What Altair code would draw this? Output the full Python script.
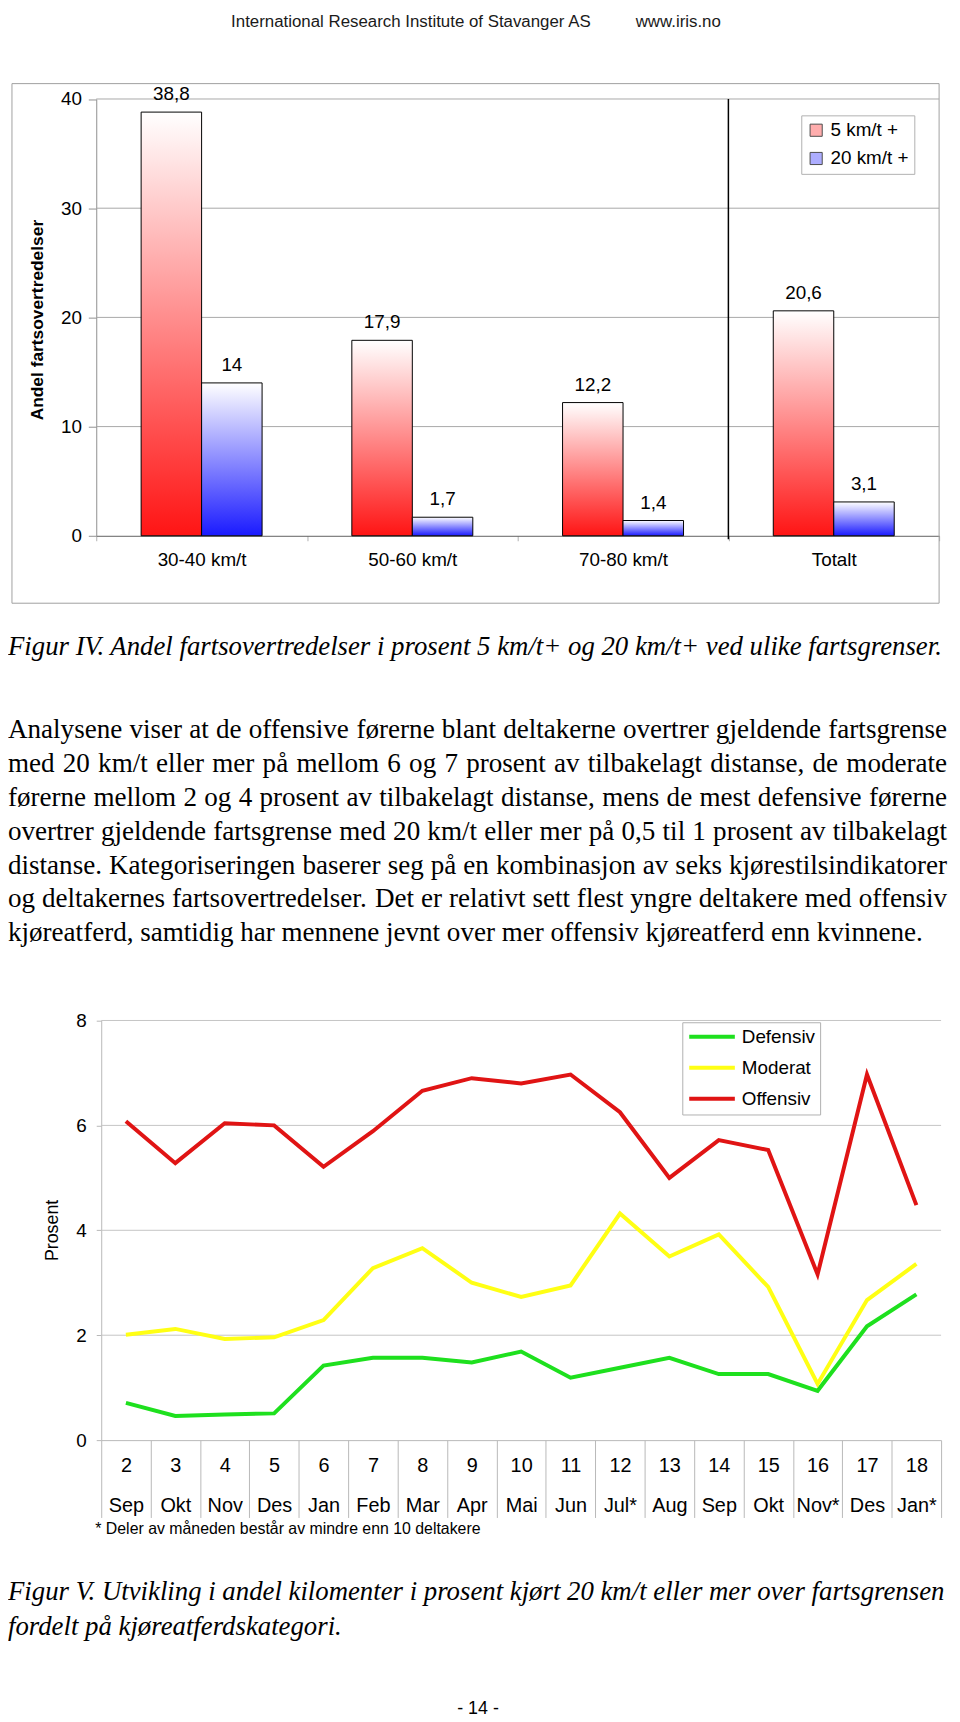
import altair as alt
import pandas as pd

# ---------------- data: Figur IV ----------------
speed_limits = ["30-40 km/t", "50-60 km/t", "70-80 km/t", "Totalt"]
over5 = [38.8, 17.9, 12.2, 20.6]
over20 = [14, 1.7, 1.4, 3.1]
bar_series = ["5 km/t +", "20 km/t +"]
bar_ticks = [0, 10, 20, 30, 40]

# ---------------- data: Figur V ----------------
week_numbers = ["2", "3", "4", "5", "6", "7", "8", "9", "10", "11", "12", "13", "14", "15", "16", "17", "18"]
months = ["Sep", "Okt", "Nov", "Des", "Jan", "Feb", "Mar", "Apr", "Mai", "Jun", "Jul*", "Aug", "Sep", "Okt", "Nov*", "Des", "Jan*"]
defensiv = [0.71, 0.46, 0.49, 0.51, 1.42, 1.57, 1.57, 1.48, 1.69, 1.19, 1.38, 1.57, 1.26, 1.26, 0.94, 2.17, 2.78]
moderat = [2.01, 2.12, 1.93, 1.96, 2.29, 3.28, 3.66, 3.00, 2.73, 2.95, 4.32, 3.50, 3.92, 2.92, 1.07, 2.67, 3.36]
offensiv = [6.08, 5.28, 6.04, 6.00, 5.21, 5.89, 6.66, 6.90, 6.80, 6.97, 6.25, 5.00, 5.72, 5.53, 3.16, 6.97, 4.48]
line_series = ["Defensiv", "Moderat", "Offensiv"]
line_ticks = [0, 2, 4, 6, 8]

# ---------------- page text ----------------
header_left = "International Research Institute of Stavanger AS"
header_right = "www.iris.no"
caption4 = "Figur IV. Andel fartsovertredelser i prosent 5 km/t+ og 20 km/t+ ved ulike fartsgrenser."
paragraph_lines = [
    "Analysene viser at de offensive førerne blant deltakerne overtrer gjeldende fartsgrense",
    "med 20 km/t eller mer på mellom 6 og 7 prosent av tilbakelagt distanse, de moderate",
    "førerne mellom 2 og 4 prosent av tilbakelagt distanse, mens de mest defensive førerne",
    "overtrer gjeldende fartsgrense med 20 km/t eller mer på 0,5 til 1 prosent av tilbakelagt",
    "distanse. Kategoriseringen baserer seg på en kombinasjon av seks kjørestilsindikatorer",
    "og deltakernes fartsovertredelser. Det er relativt sett flest yngre deltakere med offensiv",
    "kjøreatferd, samtidig har mennene jevnt over mer offensiv kjøreatferd enn kvinnene.",
]
footnote = "* Deler av måneden består av mindre enn 10 deltakere"
caption5_lines = [
    "Figur V. Utvikling i andel kilomenter i prosent kjørt 20 km/t eller mer over fartsgrensen",
    "fordelt på kjøreatferdskategori.",
]
page_number = "- 14 -"

W, H = 952, 1714
SANS = "Liberation Sans, Arial, Helvetica, sans-serif"
SERIF = "Liberation Serif, Times New Roman, serif"
PARA_SIZE = 27.3
PARA_RIGHT = 947

# Times (Liberation Serif) advance widths, 1/1000 em, used to justify the paragraph
_TW = {" ": 250, ",": 250, ".": 250, "-": 333, "/": 278, "+": 564, "*": 500}
_TW.update({d: 500 for d in "0123456789"})
_TW.update(dict(zip("ABCDEFGHIJKLMNOPQRSTUVWXYZ",
                    [722, 667, 667, 722, 611, 556, 722, 722, 333, 389, 722, 611, 889,
                     722, 722, 556, 722, 667, 556, 611, 722, 722, 944, 722, 722, 611])))
_TW.update(dict(zip("abcdefghijklmnopqrstuvwxyz",
                    [444, 500, 444, 500, 444, 333, 500, 500, 278, 278, 500, 278, 778,
                     500, 500, 500, 500, 333, 389, 278, 500, 500, 722, 500, 500, 444])))
_TW.update({"ø": 500, "å": 444, "æ": 667})


def text_width(s, size):
    return sum(_TW.get(ch, 500) for ch in s) * size / 1000.0


def fmt(v):
    return f"{v:g}".replace(".", ",")


# ================= Figur IV (bar chart) =================
rows = []
for c, a, b in zip(speed_limits, over5, over20):
    rows.append({"cat": c, "series": bar_series[0], "value": a, "label": fmt(a)})
    rows.append({"cat": c, "series": bar_series[1], "value": b, "label": fmt(b)})
bar_df = pd.DataFrame(rows)

BAR_Y0, BAR_Y40 = 525, 84.5
x_scale_bar = alt.Scale(domain=speed_limits, range=[89, 939], padding=0)
x_axis_bar = alt.Axis(orient="bottom", offset=BAR_Y0 - H, title=None, labelAngle=0,
                      labelFontSize=19, labelPadding=10, tickBand="extent", tickSize=5,
                      tickColor="#b0b0b0", domainColor="#606060", labelOverlap=False)
bx = alt.X("cat:N", sort=speed_limits, scale=x_scale_bar, axis=x_axis_bar)
bx_edge = alt.X("cat:N", sort=speed_limits, scale=x_scale_bar, axis=x_axis_bar, bandPosition=0)
by = alt.Y("value:Q", scale=alt.Scale(domain=[0, 40], range=[BAR_Y0, BAR_Y40], nice=False),
           axis=alt.Axis(orient="left", offset=-89, values=bar_ticks, tickSize=8,
                         tickColor="#909090", domainColor="#909090", labelFontSize=19,
                         labelPadding=7, title="Andel fartsovertredelser", titleFont=SANS,
                         titleFontWeight="bold", titleFontSize=17.5, titleX=-59, titleY=307,
                         titleAngle=270, titleBaseline="middle", titleAlign="center"))
bxo = alt.XOffset("series:N", sort=bar_series,
                  scale=alt.Scale(domain=bar_series, paddingInner=0, paddingOuter=0.742))

red_grad = {"gradient": "linear", "x1": 0, "y1": 0, "x2": 0, "y2": 1,
            "stops": [{"offset": 0, "color": "#ffffff"}, {"offset": 1, "color": "#ff1414"}]}
blue_grad = {"gradient": "linear", "x1": 0, "y1": 0, "x2": 0, "y2": 1,
             "stops": [{"offset": 0, "color": "#ffffff"}, {"offset": 1, "color": "#1a1aff"}]}

frame = alt.Chart(pd.DataFrame({"k": [0]})).mark_rect(
    fillOpacity=0, stroke="#a0a0a0", strokeWidth=1
).encode(x=alt.value(4), x2=alt.value(939), y=alt.value(69), y2=alt.value(593))

bar_grid = alt.Chart(pd.DataFrame({"value": bar_ticks[1:]})).mark_rule(
    color="#a8a8a8", strokeWidth=1
).encode(y=by, x=alt.value(89), x2=alt.value(939))

bars5 = alt.Chart(bar_df).transform_filter(
    alt.datum.series == bar_series[0]
).mark_bar(fill=red_grad, stroke="black", strokeWidth=1).encode(x=bx, xOffset=bxo, y=by)

bars20 = alt.Chart(bar_df).transform_filter(
    alt.datum.series == bar_series[1]
).mark_bar(fill=blue_grad, stroke="black", strokeWidth=1).encode(x=bx, xOffset=bxo, y=by)

bar_labels = alt.Chart(bar_df).mark_text(
    baseline="alphabetic", dy=-12, fontSize=19, font=SANS, color="black"
).encode(x=bx, xOffset=bxo, y=by, text="label:N")

divider = alt.Chart(pd.DataFrame({"cat": ["Totalt"]})).mark_rule(
    color="black", strokeWidth=1.5
).encode(x=bx_edge, y=alt.value(BAR_Y40), y2=alt.value(BAR_Y0 + 3.6))

bar_legend = alt.Chart(bar_df).transform_filter("false").mark_square().encode(
    color=alt.Color("series:N", scale=alt.Scale(domain=bar_series, range=["#ff8a8a", "#8a8aff"]),
                    legend=alt.Legend(orient="none", legendX=800, legendY=101, title=None,
                                      symbolType="square", symbolSize=150,
                                      symbolStrokeColor="black", symbolStrokeWidth=1,
                                      labelFontSize=19, labelOffset=5, rowPadding=8.5,
                                      padding=5.5, clipHeight=19, strokeColor="#b0b0b0",
                                      fillColor="white"))
)

bar_chart = alt.layer(frame, bar_grid, bars5, bars20, bar_labels, divider, bar_legend)

# ================= Figur V (line chart) =================
keys = [f"{n}|{m}" for n, m in zip(week_numbers, months)]
lrows = []
for name, vals in zip(line_series, [defensiv, moderat, offensiv]):
    for i, (k, v) in enumerate(zip(keys, vals)):
        lrows.append({"key": k, "series": name, "value": v, "idx": i})
line_df = pd.DataFrame(lrows)

LINE_Y0, LINE_Y8 = 1437, 1013.8
lx = alt.X("key:N", sort=keys, bandPosition=0.5,
           scale=alt.Scale(type="band", domain=keys, range=[94, 941], padding=0),
           axis=alt.Axis(orient="bottom", offset=LINE_Y0 - H, title=None, labelAngle=0,
                         labelExpr="split(datum.label, '|')", labelFontSize=20,
                         labelLineHeight=40.4, tickBand="extent", tickSize=78,
                         labelPadding=-62.2, tickColor="#b8b8b8", domainColor="#b8b8b8",
                         labelOverlap=False))
ly = alt.Y("value:Q", scale=alt.Scale(domain=[0, 8], range=[LINE_Y0, LINE_Y8], nice=False),
           axis=alt.Axis(orient="left", offset=-94, values=line_ticks, tickSize=5,
                         tickColor="#b8b8b8", domainColor="#b8b8b8", labelFontSize=19,
                         labelPadding=10, title="Prosent", titleFontSize=18,
                         titleFontWeight="normal", titleX=-49, titleY=1225, titleAngle=270,
                         titleBaseline="middle", titleAlign="center"))

line_grid = alt.Chart(pd.DataFrame({"value": line_ticks[1:]})).mark_rule(
    color="#c4c4c4", strokeWidth=1
).encode(y=ly, x=alt.value(94), x2=alt.value(941))

lines = alt.Chart(line_df).mark_line(strokeWidth=4).encode(
    x=lx, y=ly, order=alt.Order("idx:Q"),
    color=alt.Color("series:N", sort=line_series,
                    scale=alt.Scale(domain=line_series, range=["#1ee01e", "#ffff14", "#e01414"]),
                    legend=alt.Legend(orient="none", legendX=680, legendY=1015.6, title=None,
                                      symbolType="stroke", symbolSize=2116,
                                      symbolStrokeWidth=4, labelFontSize=19, labelOffset=5,
                                      rowPadding=11.3, padding=5, clipHeight=19,
                                      strokeColor="#b0b0b0", fillColor="white"))
)

line_chart = alt.layer(line_grid, lines)

# ================= page text =================
def single_text(txt, x, y, size, font, align="left", style=None, color="black"):
    kw = dict(align=align, baseline="alphabetic", fontSize=size, font=font, color=color)
    if style:
        kw["fontStyle"] = style
    return alt.Chart(pd.DataFrame({"t": [txt]})).mark_text(**kw).encode(
        text="t:N", x=alt.value(x), y=alt.value(y))


hdr1 = single_text(header_left, 225, 12, 17, SANS, color="#1a1a1a")
hdr2 = single_text(header_right, 633, 12, 17, SANS, color="#1a1a1a")
cap4 = single_text(caption4, 0, 645, 27, SERIF, style="italic")

# justified paragraph: every line but the last is spread to the right margin
word_rows = []
for li, line in enumerate(paragraph_lines):
    words = line.split(" ")
    if li == len(paragraph_lines) - 1:
        word_rows.append({"line": li, "t": line, "xpos": 0.0, "last": False})
        continue
    widths = [text_width(w, PARA_SIZE) for w in words]
    gap = (PARA_RIGHT - sum(widths)) / (len(words) - 1)
    xpos = 0.0
    for wi, (w, wd) in enumerate(zip(words, widths)):
        is_last = wi == len(words) - 1
        word_rows.append({"line": li, "t": w, "xpos": PARA_RIGHT if is_last else xpos, "last": is_last})
        xpos += wd + gap
words_df = pd.DataFrame(word_rows)
para_y = alt.Y("line:Q", scale=alt.Scale(domain=[0, 6], range=[729, 934]), axis=None)
para_x = alt.X("xpos:Q", scale=None, axis=None)

para_left = alt.Chart(words_df).transform_filter("!datum.last").mark_text(
    align="left", baseline="alphabetic", fontSize=PARA_SIZE, font=SERIF, color="black"
).encode(text="t:N", x=para_x, y=para_y)
para_right = alt.Chart(words_df).transform_filter("datum.last").mark_text(
    align="right", baseline="alphabetic", fontSize=PARA_SIZE, font=SERIF, color="black"
).encode(text="t:N", x=para_x, y=para_y)
para = alt.layer(para_left, para_right)

foot = single_text(footnote, 88, 1532, 16, SANS)

cap5 = alt.Chart(pd.DataFrame({"line": [0, 1], "t": caption5_lines})).mark_text(
    align="left", baseline="alphabetic", fontSize=27, font=SERIF, fontStyle="italic", color="black"
).encode(text="t:N", x=alt.value(0),
         y=alt.Y("line:Q", scale=alt.Scale(domain=[0, 1], range=[1598, 1634]), axis=None))

pnum = single_text(page_number, 474, 1713, 18, SANS, align="center")

chart = alt.layer(
    bar_chart, line_chart, hdr1, hdr2, cap4, para, foot, cap5, pnum
).resolve_scale(
    x="independent", y="independent", color="independent"
).properties(
    width=W, height=H, autosize=alt.AutoSizeParams(type="none"), padding=0
).configure_view(
    strokeWidth=0
).configure_axis(
    labelFont=SANS, titleFont=SANS, labelColor="black", titleColor="black", grid=False
).configure_legend(
    labelFont=SANS, labelColor="black"
)

chart.save("out.html", embed_options={"renderer": "svg", "actions": False})
